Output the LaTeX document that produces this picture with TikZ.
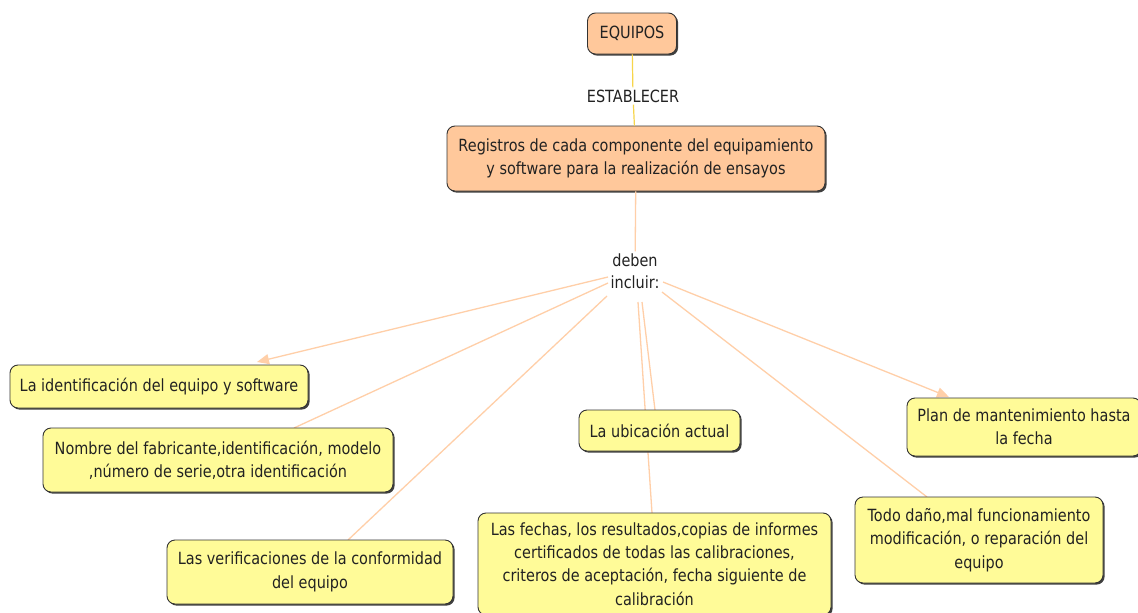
\documentclass[tikz,border=0pt]{standalone}
\usepackage{fontspec}
\setmainfont{DejaVu Sans}[FakeStretch=0.86]
\usetikzlibrary{arrows.meta,shadows,calc}
\definecolor{peach}{HTML}{FFC89B}
\definecolor{yel}{HTML}{FFFB98}
\definecolor{conn}{HTML}{FFCFA8}
\definecolor{gold}{HTML}{F7D54A}
\definecolor{txt}{HTML}{222222}
\tikzset{
  box/.style={draw=black!80, line width=0.9pt, rounded corners=8pt, align=center,
    text=txt, inner sep=4pt, font=\fontsize{16.8}{23.3}\selectfont,
    drop shadow={shadow xshift=1.6pt, shadow yshift=-1.6pt, fill=black!75, opacity=1}},
  pbox/.style={box, fill=peach},
  ybox/.style={box, fill=yel},
  lbl/.style={align=center, text=txt, inner sep=2pt, font=\fontsize{16.8}{22}\selectfont},
  cline/.style={draw=conn, line width=1.3pt},
  carrow/.style={cline, -{Triangle[length=12pt,width=10pt,fill=conn]}},
}
\begin{document}
\begin{tikzpicture}[x=1pt,y=-1pt]
\useasboundingbox (0,0) rectangle (1138,613);
\fill[white] (0,0) rectangle (1138,613);
\node[pbox, minimum width=89pt, minimum height=41pt] (eq) at (632,33.5) {EQUIPOS};
\node[lbl] (est) at (633,96) {ESTABLECER};
\node[pbox, minimum width=378pt, minimum height=65pt] (reg) at (636,158.5) {Registros de cada componente del equipamiento\\y software para la realización de ensayos};
\node[lbl] (deb) at (635,271) {deben\\incluir:};
% end points of connectors on the child boxes
\coordinate (idt) at (257,362);
\coordinate (nomt) at (294,428);
\coordinate (vert) at (348,540);
\coordinate (ubit) at (655,410);
\coordinate (fect) at (652,513);
\coordinate (todot) at (927,497);
\coordinate (plant) at (949,397);
\draw[gold, line width=1.2pt] (eq) -- (est);
\draw[gold, line width=1.2pt] (est) -- (reg);
\draw[cline] (reg) -- (deb);
\draw[carrow] ([xshift=-27pt,yshift=-6pt]deb.center) -- (idt);
\draw[cline] ([xshift=-27pt,yshift=-12pt]deb.center) -- (nomt);
\draw[cline] ([xshift=-28pt,yshift=-25pt]deb.center) -- (vert);
\draw[cline] ([xshift=7pt,yshift=-31pt]deb.center) -- (ubit);
\draw[cline] ([xshift=3pt,yshift=-31pt]deb.center) -- (fect);
\draw[cline] ([xshift=27pt,yshift=-21pt]deb.center) -- (todot);
\draw[carrow] ([xshift=28pt,yshift=-11pt]deb.center) -- (plant);
% boxes
\node[ybox, minimum width=298pt, minimum height=43pt] (id) at (159,386.5) {La identificación del equipo y software};
\node[ybox, minimum width=350pt, minimum height=64pt] (nom) at (218,460) {Nombre del fabricante,identificación, modelo\\,número de serie,otra identificación};
\node[ybox, minimum width=286pt, minimum height=64pt] (ver) at (310,572) {Las verificaciones de la conformidad\\del equipo};
\node[ybox, minimum width=161pt, minimum height=41pt] (ubi) at (659.5,430.5) {La ubicación actual};
\node[ybox, minimum width=353pt, minimum height=102pt] (fec) at (654.5,564) {Las fechas, los resultados,copias de informes\\certificados de todas las calibraciones,\\criteros de aceptación, fecha siguiente de\\calibración};
\node[ybox, minimum width=234pt, minimum height=58pt] (plan) at (1024,427) {Plan de mantenimiento hasta\\la fecha};
\node[ybox, minimum width=248pt, minimum height=86pt] (todo) at (979,540) {Todo daño,mal funcionamiento\\modificación, o reparación del\\equipo};
\end{tikzpicture}
\end{document}
